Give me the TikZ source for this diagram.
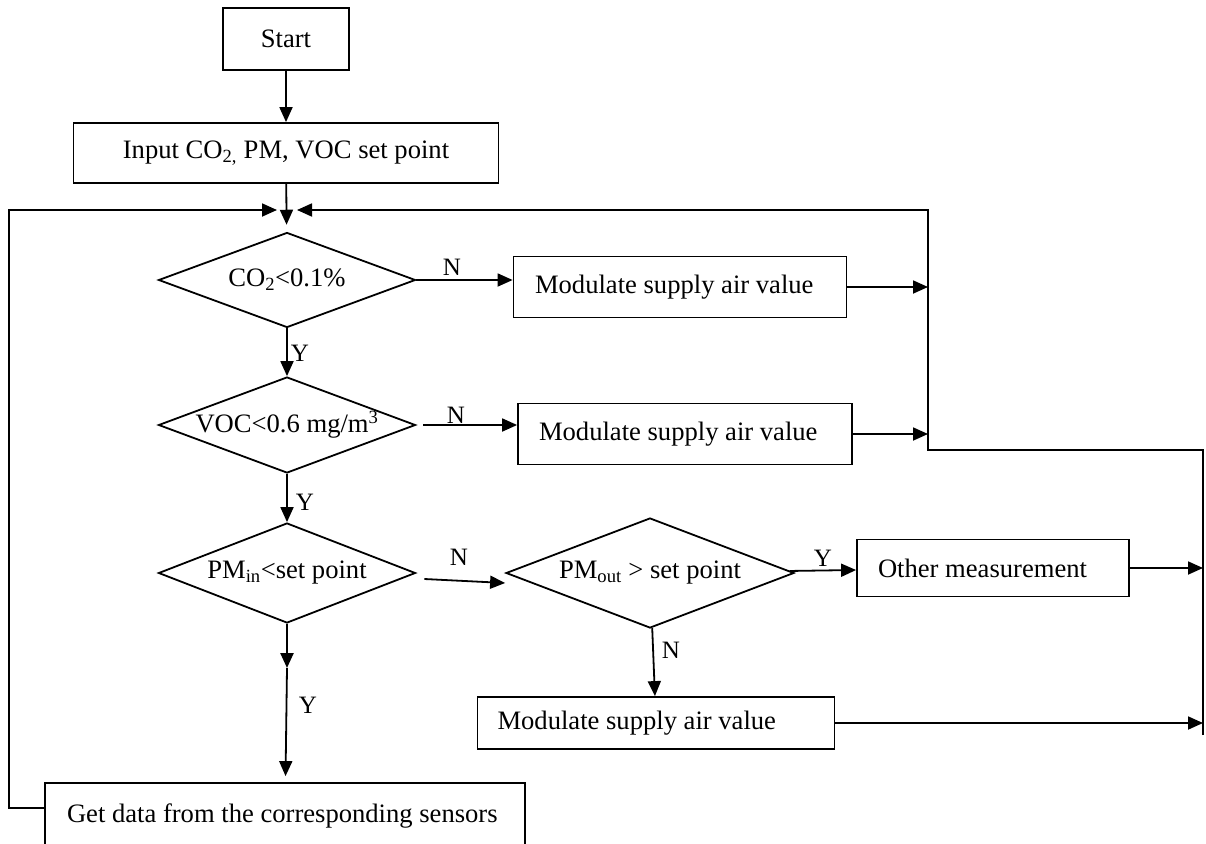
\documentclass[tikz,border=0pt]{standalone}
\usepackage{fontspec}
\setmainfont{Liberation Serif}
\usetikzlibrary{shapes.geometric,arrows.meta,calc}
\newcommand{\lefttext}[2]{\makebox[#1][l]{#2}}
\tikzset{
  txt/.style={font=\fontsize{26.6}{30}\selectfont},
  box/.style={draw,line width=1.8pt,inner sep=0pt,txt},
  test/.style={draw,diamond,aspect=2.7,line width=1.8pt,inner sep=0pt,txt},
  flow/.style={line width=1.8pt,-{Triangle[length=15pt,width=13pt]}},
  yn/.style={inner sep=0pt,font=\fontsize{25}{28}\selectfont},
}
\begin{document}
\begin{tikzpicture}[x=1pt,y=-1pt]
  \useasboundingbox (0,0) rectangle (1206,843);
  % main column
  \node[box,minimum width=126pt,minimum height=62pt] (start) at (286,39) {Start};
  \node[box,minimum width=425pt,minimum height=60pt] (input) at (286,153) {Input CO\textsubscript{2,} PM, VOC set point};
  \node[test,minimum width=257pt,minimum height=95pt] (co2) at (287,280) {CO\textsubscript{2}<0.1\%};
  \node[test,minimum width=257pt,minimum height=96pt] (voc) at (287,425) {VOC<0.6 mg/m\textsuperscript{3}};
  \node[test,minimum width=257pt,minimum height=100pt] (pmin) at (287,573) {PM\textsubscript{in}<set point};
  \node[test,minimum width=288pt,minimum height=110pt] (pmout) at (650,573) {PM\textsubscript{out} > set point};
  \node[box,minimum width=480pt,minimum height=66pt] (getdata) at (285,816) {\lefttext{436pt}{Get data from the corresponding sensors}};
  % actions
  \node[box,minimum width=333pt,minimum height=61pt] (mod1) at (680,287) {\lefttext{290pt}{Modulate supply air value}};
  \node[box,minimum width=334pt,minimum height=61pt] (mod2) at (685,434) {\lefttext{292pt}{Modulate supply air value}};
  \node[box,minimum width=272pt,minimum height=57pt] (other) at (993,568) {\lefttext{230pt}{Other measurement}};
  \node[box,minimum width=357pt,minimum height=52pt] (mod3) at (656,723) {\lefttext{317pt}{Modulate supply air value}};
  % junction points of the return lines
  \coordinate (lin) at (277,210);
  \coordinate (rin) at (297,210);
  \coordinate (rtop) at (928,210);
  \coordinate (rbot) at (928,450);
  \coordinate (rr) at (1203,450);
  \coordinate (rrbot) at (1203,735);
  \coordinate (lbot) at (9,808);
  \coordinate (mid) at (287,668);
  % forward flow
  \draw[flow] (start) -- (input);
  \draw[flow,shorten >=7pt] (input) -- (co2);
  \draw[flow] (co2) -- (voc);
  \draw[flow] (voc) -- (pmin);
  \draw[flow,line width=2.4pt] (pmin) -- (mid);
  \draw[flow,shorten >=6pt] (mid) -- (getdata);
  \draw[flow] (co2.east) -- (co2.east -| mod1.west);
  \draw[flow,shorten <=7pt] (voc.east) -- (voc.east -| mod2.west);
  \draw[flow] ([xshift=8pt,yshift=-6pt]pmin.east) -- ([yshift=-10pt]pmout.west);
  \draw[flow] (pmout) -- (other);
  \draw[flow] (pmout) -- (mod3);
  % return lines
  \draw[flow] (mod1.east) -- (mod1.east -| rtop);
  \draw[flow] (mod2.east) -- (mod2.east -| rtop);
  \draw[flow] (other.east) -- (other.east -| rr);
  \draw[flow] (mod3.east) -- (mod3.east -| rr);
  \draw[flow] (rrbot) -- (rr) -- (rbot) -- (rtop) -- (rin);
  \draw[flow] (getdata.west |- lbot) -- (lbot) |- (lin);
  % branch labels
  \node[yn] (n1) at (452,267) {N};
  \node[yn] (y1) at (300,353) {Y};
  \node[yn] (n2) at (456,415) {N};
  \node[yn] (y2) at (305,502) {Y};
  \node[yn] (n3) at (459,557) {N};
  \node[yn] (y3) at (823,558) {Y};
  \node[yn] (n4) at (671,650) {N};
  \node[yn] (y4) at (308,705) {Y};
\end{tikzpicture}
\end{document}
